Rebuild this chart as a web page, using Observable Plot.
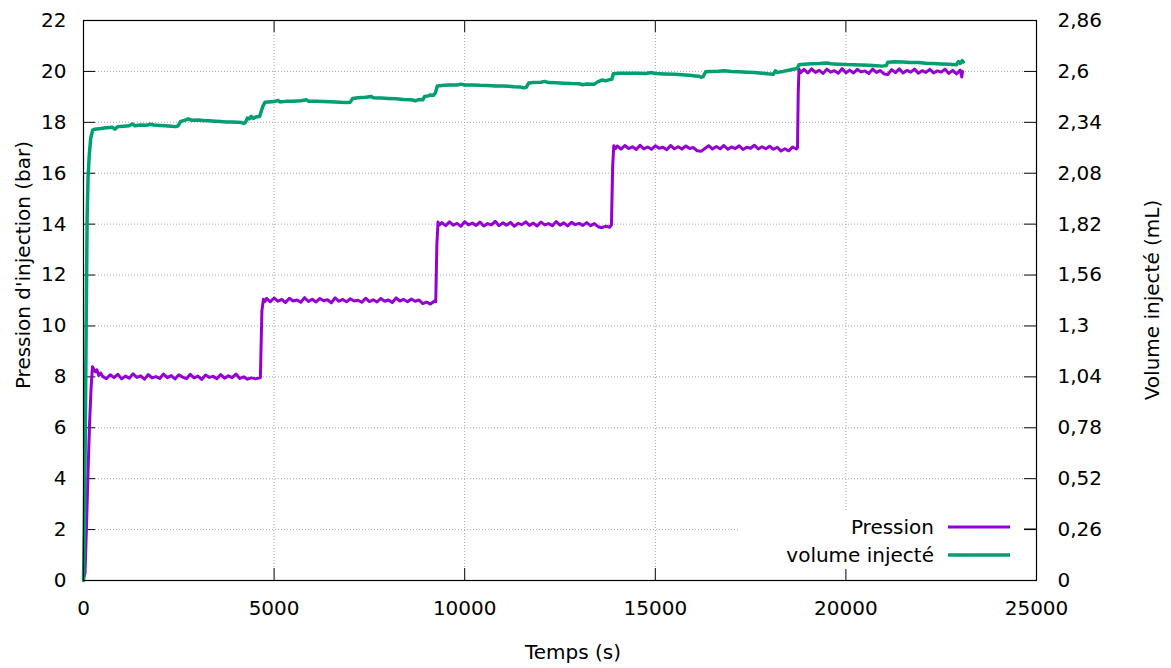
<!DOCTYPE html>
<html>
<head>
<meta charset="utf-8">
<script src="https://cdn.jsdelivr.net/npm/d3@7"></script>
<script src="https://cdn.jsdelivr.net/npm/@observablehq/plot@0.6"></script>
<style>
  html, body { margin: 0; padding: 0; background: #fff; }
  svg { display: block; }
</style>
</head>
<body>
<div id="chart"></div>
<script>
// ---------- data ----------
const xTicks = [0, 5000, 10000, 15000, 20000, 25000];
const yTicks = [0, 2, 4, 6, 8, 10, 12, 14, 16, 18, 20, 22];
const rightTickLabels = ["0", "0,26", "0,52", "0,78", "1,04", "1,3", "1,56", "1,82", "2,08", "2,34", "2,6", "2,86"];
const volumeMax = 2.86;   // right axis top (mL)
const pressureMax = 22;   // left axis top (bar)

const pressureTime = [
  0, 40, 80, 120, 160, 200, 235, 270, 310, 350, 400, 450,
  500, 600, 700, 800, 900, 1000, 1100, 1200, 1300, 1400, 1500, 1600, 1700, 1800, 1900, 2000, 2100, 2200, 2300, 2400, 2500,
  2600, 2700, 2800, 2900, 3000, 3100, 3200, 3300, 3400, 3500, 3600, 3700, 3800, 3900, 4000, 4100, 4200, 4300, 4400, 4500, 4600,
  4640, 4680, 4720, 4760,
  4800, 4900, 5000, 5100, 5200, 5300, 5400, 5500, 5600, 5700, 5800, 5900, 6000, 6100, 6200, 6300, 6400, 6500, 6600, 6700,
  6800, 6900, 7000, 7100, 7200, 7300, 7400, 7500, 7600, 7700, 7800, 7900, 8000, 8100, 8200, 8300, 8400, 8500, 8600, 8700,
  8800, 8900, 9000, 9100, 9200,
  9240, 9270, 9300, 9340,
  9400, 9500, 9600, 9700, 9800, 9900, 10000, 10100, 10200, 10300, 10400, 10500, 10600, 10700, 10800, 10900, 11000, 11100,
  11200, 11300, 11400, 11500, 11600, 11700, 11800, 11900, 12000, 12100, 12200, 12300, 12400, 12500, 12600, 12700, 12800,
  12900, 13000, 13100, 13200, 13300, 13400, 13500, 13600, 13700, 13800,
  13850, 13880, 13910, 13950,
  14000, 14100, 14200, 14300, 14400, 14500, 14600, 14700, 14800, 14900, 15000, 15100, 15200, 15300, 15400, 15500, 15600,
  15700, 15800, 15900, 16000, 16100, 16200, 16300, 16400, 16500, 16600, 16700, 16800, 16900, 17000, 17100, 17200, 17300,
  17400, 17500, 17600, 17700, 17800, 17900, 18000, 18100, 18200, 18300, 18400, 18500, 18600, 18700,
  18730, 18750, 18770, 18820,
  18900, 19000, 19100, 19200, 19300, 19400, 19500, 19600, 19700, 19800, 19900, 20000, 20100, 20200, 20300, 20400, 20500,
  20600, 20700, 20800, 20900, 21000, 21100, 21200, 21300, 21400, 21500, 21600, 21700, 21800, 21900, 22000, 22100, 22200,
  22300, 22400, 22500, 22600, 22700, 22800, 22900, 23000,
  23040, 23060
];
const pressureBar = [
  0.05, 0.3, 2.2, 4.3, 6.2, 7.6, 8.4, 8.3, 8.2, 8.28, 8.05, 8.15,
  8.02, 7.93, 8.08, 7.97, 8.10, 7.92, 8.03, 7.95, 8.12, 7.98, 8.04, 7.91, 8.09, 7.96, 8.01, 7.94, 8.11, 7.97, 8.05, 7.92, 8.08,
  7.99, 7.93, 8.10, 7.96, 8.03, 7.90, 8.07, 7.98, 8.02, 7.93, 8.09, 7.95, 8.04, 7.97, 8.11, 7.94, 8.00, 7.91, 7.96, 7.93, 7.95,
  7.97, 10.6, 11.05, 10.96,
  11.08, 10.95, 11.10, 10.97, 11.04, 10.92, 11.09, 10.98, 11.02, 10.93, 11.11, 10.96, 11.05, 10.94, 11.08, 10.99, 11.03, 10.91, 11.10, 10.97,
  11.04, 10.95, 11.07, 10.98, 11.01, 10.93, 11.09, 10.96, 11.03, 10.94, 11.08, 10.97, 11.02, 10.92, 11.10, 10.98, 11.04, 10.95, 11.06, 10.97,
  11.02, 10.88, 10.94, 10.86, 10.97,
  10.95, 13.2, 14.08, 13.97,
  14.06, 13.94, 14.09, 13.96, 14.03, 13.92, 14.10, 13.97, 14.04, 13.95, 14.08, 13.93, 14.02, 13.97, 14.11, 13.94, 14.05, 13.96,
  14.07, 13.92, 14.03, 13.98, 14.09, 13.95, 14.04, 13.93, 14.08, 13.97, 14.02, 13.94, 14.10, 13.96, 14.05, 13.93, 14.07,
  13.98, 14.03, 13.95, 14.06, 13.94, 14.02, 13.90, 13.86, 13.92, 13.88,
  13.97, 16.2, 17.08, 16.96,
  17.07, 16.95, 17.09, 16.97, 17.04, 16.93, 17.10, 16.96, 17.03, 16.94, 17.08, 16.98, 17.02, 16.92, 17.09, 16.96, 17.04,
  16.95, 17.07, 16.97, 17.01, 16.88, 16.86, 16.97, 17.08, 16.95, 17.05, 16.96, 17.09, 16.94, 17.03, 16.97, 17.08, 16.93,
  17.02, 16.98, 17.10, 16.95, 17.04, 16.96, 17.06, 16.94, 17.02, 16.87, 16.96, 16.88, 17.03, 16.95,
  17.0, 19.2, 20.08, 19.96,
  20.08, 19.94, 20.10, 19.96, 20.04, 19.92, 20.09, 19.97, 20.03, 19.93, 20.11, 19.95, 20.05, 19.94, 20.08, 19.98, 20.02,
  19.92, 20.09, 19.96, 20.03, 19.90, 19.88, 20.07, 19.95, 20.10, 19.94, 20.04, 19.97, 20.09, 19.93, 20.03, 19.96, 20.08,
  19.94, 20.02, 19.97, 20.09, 19.92, 20.04, 19.90, 20.05,
  19.78, 20.0
];

const volumeTime = [
  0, 20, 45, 70, 95, 120, 150, 190, 240, 300,
  450, 600, 750, 820, 900, 1050, 1200, 1280, 1350, 1500, 1650, 1750, 1850, 2000, 2150, 2300, 2420, 2480,
  2550, 2650, 2750, 2850, 3000, 3150, 3300, 3450, 3600, 3750, 3900, 4050, 4150, 4200, 4250,
  4300, 4350, 4400, 4450, 4500, 4550, 4620, 4700, 4760,
  4850, 5000, 5100, 5150, 5300, 5500, 5700, 5850, 5900, 6100, 6300, 6450, 6600, 6750, 6900, 7000,
  7060, 7200, 7400, 7550, 7600, 7800, 8000, 8200, 8400, 8600, 8700, 8800, 8900,
  8950, 9050, 9100, 9180, 9230, 9280,
  9400, 9600, 9800, 9900, 10000, 10200, 10400, 10600, 10800, 11000, 11150, 11300, 11450, 11550, 11620,
  11680, 11800, 12000, 12100, 12200, 12400, 12600, 12800, 13000, 13100, 13200, 13400,
  13500, 13600, 13700, 13800, 13860, 13900,
  14050, 14250, 14500, 14750, 14900, 15000, 15250, 15500, 15700, 15900, 16050, 16150, 16200, 16260,
  16320, 16450, 16650, 16800, 17000, 17200, 17400, 17600, 17800, 17950, 18100, 18150, 18200, 18350, 18500, 18650, 18720,
  18770, 18900, 19100, 19300, 19500, 19600, 19800, 20000, 20200, 20400, 20600, 20800, 20960, 21060,
  21100, 21300, 21500, 21700, 21900, 22100, 22300, 22500, 22700, 22900, 22950, 23000, 23050, 23080
];
const volumeML = [
  0, 0.25, 0.7, 1.3, 1.85, 2.06, 2.17, 2.26, 2.30, 2.305,
  2.308, 2.312, 2.315, 2.305, 2.318, 2.320, 2.322, 2.332, 2.322, 2.326, 2.325, 2.330, 2.326, 2.324, 2.322, 2.320, 2.318, 2.322,
  2.345, 2.350, 2.357, 2.350, 2.352, 2.349, 2.348, 2.346, 2.344, 2.342, 2.341, 2.340, 2.339, 2.334, 2.340,
  2.362, 2.358, 2.370, 2.360, 2.366, 2.368, 2.370, 2.420, 2.442,
  2.444, 2.446, 2.452, 2.444, 2.447, 2.448, 2.450, 2.455, 2.448, 2.447, 2.446, 2.445, 2.444, 2.442, 2.441, 2.443,
  2.462, 2.465, 2.468, 2.472, 2.466, 2.464, 2.462, 2.460, 2.457, 2.455, 2.450, 2.456, 2.455,
  2.472, 2.475, 2.480, 2.478, 2.490, 2.525,
  2.528, 2.530, 2.531, 2.535, 2.530, 2.531, 2.529, 2.528, 2.526, 2.525, 2.524, 2.522, 2.521, 2.516, 2.520,
  2.541, 2.543, 2.545, 2.549, 2.543, 2.542, 2.540, 2.538, 2.537, 2.532, 2.536, 2.535,
  2.548, 2.556, 2.552, 2.558, 2.560, 2.588,
  2.590, 2.591, 2.590, 2.589, 2.594, 2.589, 2.587, 2.585, 2.583, 2.580, 2.577, 2.575, 2.570, 2.575,
  2.598, 2.600, 2.601, 2.603, 2.600, 2.598, 2.596, 2.594, 2.591, 2.588, 2.586, 2.603, 2.595, 2.600, 2.606, 2.612, 2.615,
  2.634, 2.637, 2.639, 2.640, 2.643, 2.639, 2.637, 2.635, 2.634, 2.633, 2.631, 2.629, 2.627, 2.630,
  2.647, 2.649, 2.648, 2.646, 2.645, 2.642, 2.640, 2.638, 2.636, 2.634, 2.650, 2.641, 2.655, 2.648
];

const seriesNames = ["Pression", "volume injecté"];
const seriesColors = ["#9400d3", "#009e73"];
const seriesWidths = [3, 3.5];

// ---------- build ----------
const pressure = pressureTime.map((t, i) => ({t, v: pressureBar[i]}));
// volume is drawn on the left scale through the dual-axis ratio
const volume = volumeTime.map((t, i) => ({t, v: volumeML[i] * pressureMax / volumeMax}));
const rightTicks = yTicks.map((y, i) => ({y, label: rightTickLabels[i]}));

const W = 1171, H = 668;
const mL = 83, mR = 135, mT = 20, mB = 88;
const innerW = W - mL - mR, innerH = H - mT - mB;
const tick = 12;
const gridStyle = {stroke: "#a8a8a8", strokeOpacity: 1, strokeWidth: 1, strokeDasharray: "1,2"};

const chart = Plot.plot({
  width: W, height: H,
  marginLeft: mL, marginRight: mR, marginTop: mT, marginBottom: mB,
  style: {fontFamily: "'DejaVu Sans', sans-serif", fontSize: "20px", color: "#000", background: "#fff"},
  x: {domain: [0, 25000], ticks: xTicks, tickSize: 0, tickPadding: 20, tickFormat: d => String(d), label: null},
  y: {domain: [0, pressureMax], ticks: yTicks, tickSize: 0, tickPadding: 17, tickFormat: d => String(d), label: null},
  marks: [
    // grid
    Plot.ruleX(xTicks.slice(1, -1), {x: d => d, ...gridStyle, insetTop: tick, insetBottom: tick}),
    Plot.ruleY(yTicks.slice(1, -1), {y: d => d, ...gridStyle, insetLeft: tick, insetRight: tick}),
    // inward ticks
    Plot.ruleX(xTicks, {x: d => d, stroke: "#000", insetTop: innerH - tick}),
    Plot.ruleX(xTicks, {x: d => d, stroke: "#000", insetBottom: innerH - tick}),
    Plot.ruleY(yTicks, {y: d => d, stroke: "#000", insetRight: innerW - tick}),
    Plot.ruleY(yTicks, {y: d => d, stroke: "#000", insetLeft: innerW - tick}),
    // right axis labels
    Plot.text(rightTicks, {y: "y", text: "label", frameAnchor: "right", dx: 21, textAnchor: "start", fill: "#000"}),
    // data
    Plot.line(pressure, {x: "t", y: "v", stroke: seriesColors[0], strokeWidth: seriesWidths[0], strokeLinejoin: "round"}),
    Plot.line(volume, {x: "t", y: "v", stroke: seriesColors[1], strokeWidth: seriesWidths[1], strokeLinejoin: "round"}),
    Plot.frame({stroke: "#000", strokeWidth: 1.2})
  ]
});

const svg = d3.select(chart);

// legend (opaque key box like gnuplot)
const key = svg.append("g");
key.append("rect").attr("x", 740).attr("y", 512).attr("width", 1036 - tick - 740).attr("height", 57).attr("fill", "#fff");
seriesNames.forEach((name, i) => {
  const y = 527 + i * 28;
  key.append("text").attr("x", 934).attr("y", y).attr("dy", "0.35em")
    .attr("text-anchor", "end").attr("font-family", "'DejaVu Sans', sans-serif").attr("font-size", 20)
    .attr("fill", "#000").text(name);
  key.append("line").attr("x1", 948).attr("x2", 1010).attr("y1", y).attr("y2", y)
    .attr("stroke", seriesColors[i]).attr("stroke-width", seriesWidths[i]);
});
svg.append("line").attr("x1", 1036 - tick).attr("x2", 1036).attr("y1", 529).attr("y2", 529).attr("stroke", "#000");

// axis titles
const titleStyle = sel => sel.attr("font-family", "'DejaVu Sans', sans-serif").attr("font-size", 20).attr("fill", "#000").attr("text-anchor", "middle");
svg.append("text").call(titleStyle).attr("x", 573).attr("y", 652).attr("dy", "0.35em").text("Temps (s)");
svg.append("text").call(titleStyle).attr("transform", "translate(23,265) rotate(-90)").attr("dy", "0.35em").text("Pression d'injection (bar)");
svg.append("text").call(titleStyle).attr("transform", "translate(1152,300) rotate(-90)").attr("dy", "0.35em").text("Volume injecté (mL)");

document.getElementById("chart").appendChild(chart);
</script>
</body>
</html>
